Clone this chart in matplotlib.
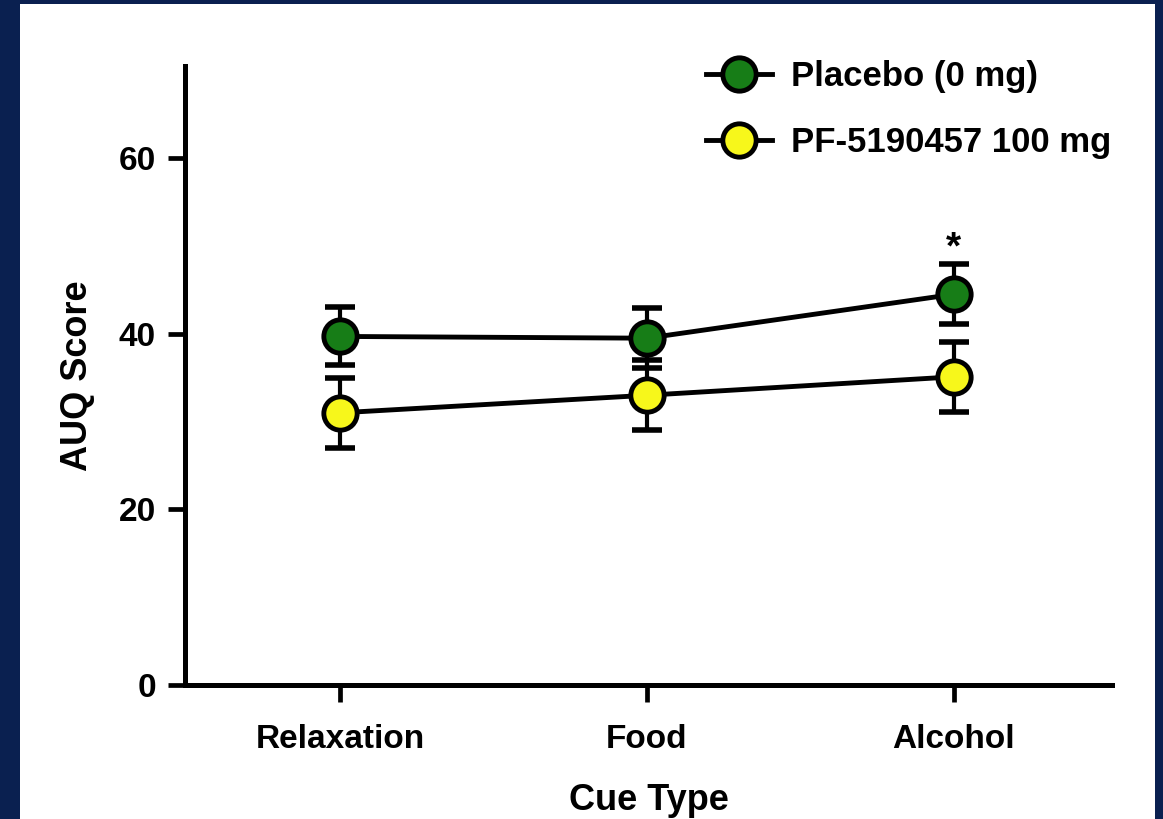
import matplotlib.pyplot as plt
from matplotlib.patches import Rectangle

plt.rcParams['font.family'] = ['Liberation Sans', 'DejaVu Sans']
plt.rcParams['font.weight'] = 'bold'

cues = ['Relaxation', 'Food', 'Alcohol']
placebo = [39.7, 39.5, 44.5]
placebo_sem = [3.3, 3.4, 3.4]
pf = [31.0, 33.0, 35.1]
pf_sem = [4.0, 4.0, 4.0]
yticks = [0, 20, 40, 60]

navy = '#0a2050'
green = '#177d17'
yellow = '#f7f71b'

fig = plt.figure(figsize=(11.63, 8.19), dpi=100, facecolor=navy)
# white panel inside the navy frame
fig.patches.append(Rectangle((20/1163, 0), 1135/1163, 815/819, transform=fig.transFigure,
                             facecolor='white', edgecolor='none', zorder=-10))

ax = fig.add_axes([185/1163, 1 - 685/819, (1112 - 185)/1163, (685 - 66)/819])
ax.set_zorder(1)
ax.set_facecolor('none')
x = list(range(len(cues)))

for vals, sem in [(placebo, placebo_sem), (pf, pf_sem)]:
    ax.errorbar(x, vals, yerr=sem, fmt='none', ecolor='black', elinewidth=3,
                capsize=11, capthick=4, zorder=2)

ax.plot(x, placebo, '-o', color='black', lw=3.5, ms=24, mfc=green, mec='black', mew=3.5,
        label='Placebo (0 mg)', zorder=3)
ax.plot(x, pf, '-o', color='black', lw=3.5, ms=24, mfc=yellow, mec='black', mew=3.5,
        label='PF-5190457 100 mg', zorder=3)

ax.text(2, placebo[2] + placebo_sem[2] - 0.2, '*', ha='center', va='bottom',
        fontsize=28, fontweight='bold')

ax.set_xlim(-0.505, 2.515)
ax.set_ylim(0, 70.5)
ax.set_xticks(x)
ax.set_xticklabels(cues)
ax.set_yticks(yticks)
for s in ['top', 'right']:
    ax.spines[s].set_visible(False)
for s in ['left', 'bottom']:
    ax.spines[s].set_linewidth(3.6)
ax.tick_params(axis='both', length=12, width=3.4, labelsize=24, color='black')
ax.tick_params(axis='x', pad=16)
ax.tick_params(axis='y', pad=9)
ax.set_xlabel('Cue Type', fontsize=26, fontweight='bold', labelpad=20)
ax.set_ylabel('AUQ Score', fontsize=26, fontweight='bold', labelpad=17)

ax.legend(loc='upper left', bbox_to_anchor=(706/1163, 1 - 60/819), bbox_transform=fig.transFigure,
          frameon=False, fontsize=25, handlelength=1.9, handletextpad=0.55,
          labelspacing=0.95, borderpad=0, borderaxespad=0)

fig.savefig('out.png', dpi=100, facecolor=navy)
